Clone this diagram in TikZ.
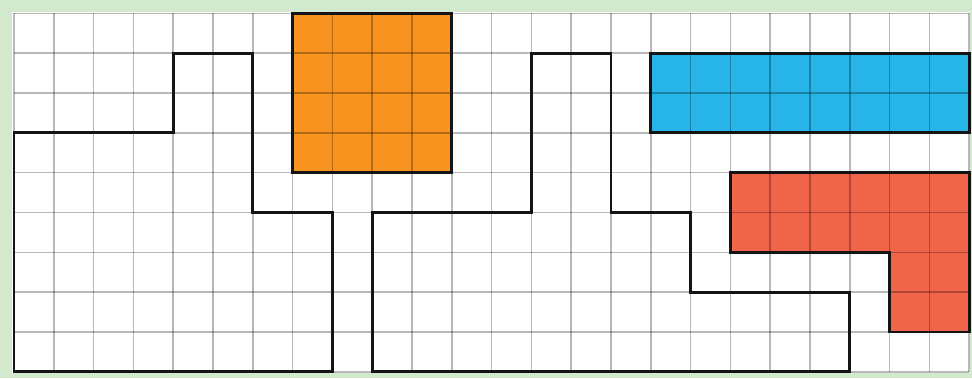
\documentclass[tikz,border=0pt]{standalone}
\usepackage{tikz}
\definecolor{framegreen}{HTML}{D3E9CD}
\definecolor{gorange}{HTML}{F7931E}
\definecolor{gblue}{HTML}{27B4E8}
\definecolor{gred}{HTML}{F0654A}
\tikzset{
  gridline/.style={draw=black, draw opacity=0.28, line width=1.6pt},
  outline/.style={draw=black!92, line width=2.8pt, line join=miter},
  shapefill/.style={line width=0pt}
}
\begin{document}
\begin{tikzpicture}
\useasboundingbox (0,0) rectangle (972pt,378pt);
\fill[framegreen] (0,0) rectangle (972pt,378pt);
\fill[white] (12pt,5pt) rectangle (970pt,366pt);
\begin{scope}[shift={(14pt,364.5pt)}, x=39.8pt, y=-39.8pt]
  % coloured pieces
  \fill[gorange] (7,0) rectangle (11,4);
  \fill[gblue] (16,1) rectangle (24,3);
  \fill[gred] (18,4) -- (24,4) -- (24,8) -- (22,8) -- (22,6) -- (18,6) -- cycle;
  % grid
  \foreach \c in {0,...,24} \draw[gridline] (\c,0) -- (\c,9);
  \foreach \r in {0,...,9} \draw[gridline] (0,\r) -- (24,\r);
  % outlines of coloured pieces
  \draw[outline] (7,0) rectangle (11,4);
  \draw[outline] (16,1) rectangle (24,3);
  \draw[outline] (18,4) -- (24,4) -- (24,8) -- (22,8) -- (22,6) -- (18,6) -- cycle;
  % black shapes
  \draw[outline] (0,9) -- (0,3) -- (4,3) -- (4,1) -- (6,1) -- (6,5) -- (8,5) -- (8,9) -- cycle;
  \draw[outline] (9,9) -- (9,5) -- (13,5) -- (13,1) -- (15,1) -- (15,5) -- (17,5) -- (17,7) -- (21,7) -- (21,9) -- cycle;
\end{scope}
\end{tikzpicture}
\end{document}
